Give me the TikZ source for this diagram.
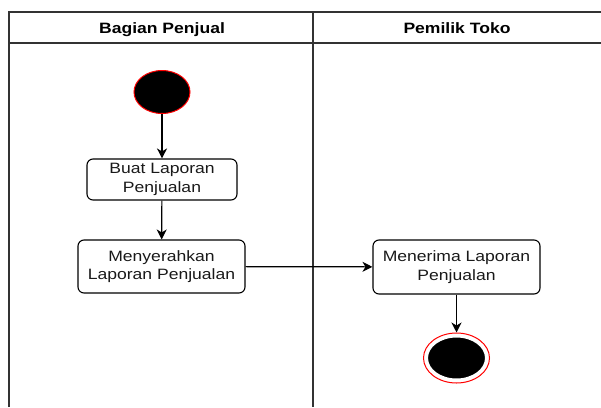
\documentclass[tikz,border=0pt]{standalone}
\usepackage{fontspec}
\setmainfont{Liberation Sans}
\newfontfamily\lanefont[FakeStretch=1.17]{Liberation Sans}
\usetikzlibrary{arrows.meta,shapes.geometric}
\tikzset{
  lane/.style={draw=black!80, line width=1.2pt},
  act/.style={draw, line width=1.1pt, rounded corners=6pt, align=center, inner sep=0pt,
    font=\lanefont\fontsize{15}{18.7}\selectfont, text=black!90},
  flow/.style={line width=1.2pt, -{Stealth[length=10pt,width=10pt,inset=3pt]}},
  startdot/.style={ellipse, fill=black, draw=red, line width=1pt},
  enddot/.style={ellipse, fill=black, draw=white, line width=3pt},
  endring/.style={ellipse, draw=red, line width=1pt, fill=white},
  headtext/.style={font=\lanefont\bfseries\fontsize{15}{18}\selectfont, anchor=base}
}
\begin{document}
\begin{tikzpicture}[x=1pt,y=-1pt]
\useasboundingbox (0,0) rectangle (601,407);
% swimlane frame
\draw[lane] (9,407) -- (9,12) -- (601,12);
\draw[lane] (9,43) -- (601,43);
\draw[lane] (313,12) -- (313,407);
\node[headtext] (h1) at (162,33) {Bagian Penjual};
\node[headtext] (h2) at (457,33) {Pemilik Toko};
% activities
\node[startdot, minimum width=56pt, minimum height=43pt, inner sep=0pt] (start) at (162,92) {};
\node[act, minimum width=150pt, minimum height=41pt] (a1) at (162,179.5) {Buat Laporan\\Penjualan};
\node[act, minimum width=167pt, minimum height=53pt] (a2) at (161.5,266.5) {Menyerahkan\\Laporan Penjualan};
\node[act, minimum width=167pt, minimum height=54pt] (a3) at (456.5,267) {Menerima Laporan\\Penjualan};
\node[endring, minimum width=66pt, minimum height=50pt, inner sep=0pt] (endo) at (456.5,358) {};
\node[enddot, minimum width=60pt, minimum height=44pt, inner sep=0pt] (endi) at (456.5,358) {};
% transitions
\draw[flow] (start) -- (a1);
\draw[flow] (a1) -- (a2);
\draw[flow] (a2) -- (a3);
\draw[flow] (a3) -- (endo);
\end{tikzpicture}
\end{document}
